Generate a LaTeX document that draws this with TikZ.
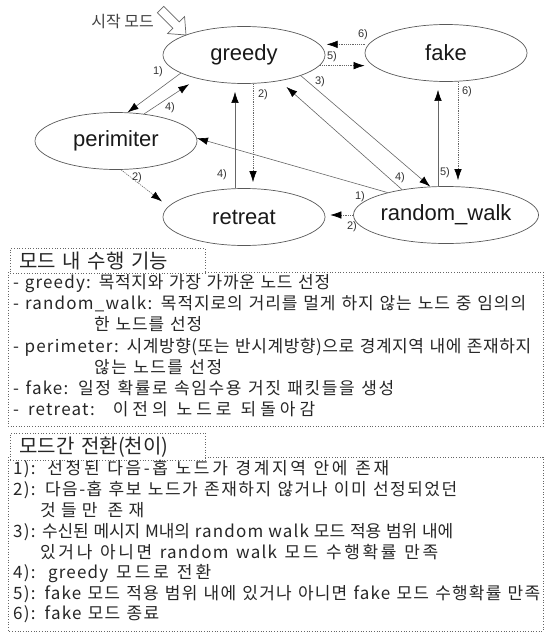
\documentclass[tikz,border=0pt]{standalone}
\usepackage{fontspec}
\setmainfont{Noto Sans CJK KR}
\newfontfamily\bodyfont{Noto Sans CJK KR}[LetterSpace=7]
\newfontfamily\tagfont{Noto Sans CJK KR}[LetterSpace=14]
\newfontfamily\arial{Liberation Sans}
\usetikzlibrary{arrows.meta,shapes.geometric}
% glue between Hangul syllables, so that a line can be spread evenly
\XeTeXinterchartokenstate=1
\newXeTeXintercharclass\hglclass
\newskip\krgap \krgap=0pt
\count255="AC00
\loop \XeTeXcharclass\count255=\hglclass \ifnum\count255<"D7A3 \advance\count255 by 1 \repeat
\XeTeXinterchartoks\hglclass\hglclass={\hskip\krgap}
\XeTeXinterchartoks\hglclass 0={\hskip\krgap}
\XeTeXinterchartoks 0\hglclass={\hskip\krgap}
\newcommand\fitline[2]{\makebox[#1][s]{#2}}
\begin{document}
\begin{tikzpicture}[x=1pt,y=-1pt,
  st/.style={ellipse, draw=black!65, line width=0.7pt, minimum width=162pt, minimum height=57pt, inner sep=0pt, font=\arial\fontsize{22}{24}\selectfont, text=black!90},
  arr/.style={draw=black!60, line width=0.6pt, -{Latex[length=11pt,width=7.5pt,color=black]}},
  dotarr/.style={arr, dash pattern=on 1.2pt off 1pt},
  elab/.style={font=\arial\fontsize{11}{12}\selectfont, inner sep=0.5pt, text=black!80},
  tline/.style={anchor=base west, inner sep=0pt, font={\bodyfont\fontsize{17}{20}\selectfont\krgap=0pt plus 1fil minus 1.5pt\relax\spaceskip=5pt plus 1fil minus 1.5pt\relax}, text=black!85},
  tag/.style={draw=black!60, dotted, line width=0.7pt, fill=white, anchor=west, inner xsep=9pt, minimum height=24pt, text width=177pt, font=\tagfont\fontsize{20}{22}\selectfont, text=black!85},
  frame/.style={draw=black!60, dotted, line width=0.7pt}
]
\useasboundingbox (0,0) rectangle (550,634);

% states
\node[st] (g) at (244,55) {greedy};
\node[st] (f) at (446,53) {fake};
\node[st] (p) at (116,141) {perimiter};
\node[st] (r) at (244,217) {retreat};
\node[st] (w) at (446,215) {random\_walk};

% start marker
\node[font=\fontsize{16}{18}\selectfont, text=black!75, anchor=east, inner sep=0pt] (start) at (154,22) {시작 모드};
\begin{scope}[shift={(186,35)}, rotate=-45]
  \draw[draw=black!60, fill=white, line width=0.7pt] (-36,-4.5) -- (-14,-4.5) -- (-14,-12) -- (0,0) -- (-14,12) -- (-14,4.5) -- (-36,4.5) -- cycle;
\end{scope}

% transitions
\draw[arr] (g.196) -- (p.68);
\draw[arr, shorten >=10pt] (p.44) -- (g.207);
\draw[dotarr, shorten >=8pt] (p.280) -- (r.172);
\draw[dotarr, shorten >=6pt] ([xshift=9pt]g.south) -- ([xshift=9pt]r.north);
\draw[arr, shorten >=8pt] ([xshift=-9pt]r.north) -- ([xshift=-9pt]g.south);
\draw[arr] (g.340) -- (w.119);
\draw[arr, shorten >=9pt] (w.150) -- (g.324);
\draw[arr] (w.159) -- (p.2);
\draw[dotarr, shorten >=5pt] (w.west) -- (w.west -| r.east);
\draw[dotarr] (g.352) -- (g.352 -| f.west);
\draw[dotarr, shorten >=7pt] (f.west |- g.8) -- (g.8);
\draw[dotarr, shorten >=6pt] ([xshift=12pt]f.south) -- ([xshift=12pt]w.north);
\draw[arr, shorten >=8pt] ([xshift=-8pt]w.north) -- ([xshift=-8pt]f.south);

% transition labels
\node[elab] (la) at (158,72) {1)};
\node[elab] (lb) at (170,108) {4)};
\node[elab] (lc) at (137,178) {2)};
\node[elab] (ld) at (263,95) {2)};
\node[elab] (le) at (222,175) {4)};
\node[elab] (lf) at (320,82) {3)};
\node[elab] (lg) at (400,178) {4)};
\node[elab] (lh) at (360,197) {1)};
\node[elab] (li) at (352,227) {2)};
\node[elab] (lj) at (332,57) {5)};
\node[elab] (lk) at (363,35) {6)};
\node[elab] (ll) at (467,92) {6)};
\node[elab] (lm) at (445,173) {5)};

% box 1
\draw[frame] (8,272) rectangle (543,426);
\node[tag] (tag1) at (10,261) {모드 내 수행 기능};
\node[tline] (t1) at (13,288) {\fitline{317pt}{- greedy: 목적지와 가장 가까운 노드 선정}};
\node[tline] (t2) at (13,309) {\fitline{513pt}{- random\_walk: 목적지로의 거리를 멀게 하지 않는 노드 중 임의의}};
\node[tline] (t3) at (94,330.5) {\fitline{108pt}{한 노드를 선정}};
\node[tline] (t4) at (13,352) {\fitline{518pt}{- perimeter: 시계방향(또는 반시계방향)으로 경계지역 내에 존재하지}};
\node[tline] (t5) at (94,373) {\fitline{128pt}{않는 노드를 선정}};
\node[tline] (t6) at (13,394.5) {\fitline{381pt}{- fake: 일정 확률로 속임수용 거짓 패킷들을 생성}};
\node[tline] (t7) at (13,415.5) {\fitline{302pt}{- retreat:\ \ 이전의 노드로 되돌아감}};

% box 2
\draw[frame] (8,457) rectangle (543,631);
\node[tag] (tag2) at (10,447) {모드간 전환(천이)};
\node[tline] (u1) at (13,474) {\fitline{376pt}{1): 선정된 다음-홉 노드가 경계지역 안에 존재}};
\node[tline] (u2) at (13,495) {\fitline{444pt}{2): 다음-홉 후보 노드가 존재하지 않거나 이미 선정되었던}};
\node[tline] (u3) at (40,516) {\fitline{104pt}{것들만 존재}};
\node[tline] (u4) at (13,537) {\fitline{440pt}{3): 수신된 메시지 M내의 random walk 모드 적용 범위 내에}};
\node[tline] (u5) at (40,558) {\fitline{398pt}{있거나 아니면 random walk 모드 수행확률 만족}};
\node[tline] (u6) at (13,578.5) {\fitline{198pt}{4): greedy 모드로 전환}};
\node[tline] (u7) at (13,599) {\fitline{527pt}{5): fake 모드 적용 범위 내에 있거나 아니면 fake 모드 수행확률 만족}};
\node[tline] (u8) at (13,619.5) {\fitline{146pt}{6): fake 모드 종료}};
\end{tikzpicture}
\end{document}
